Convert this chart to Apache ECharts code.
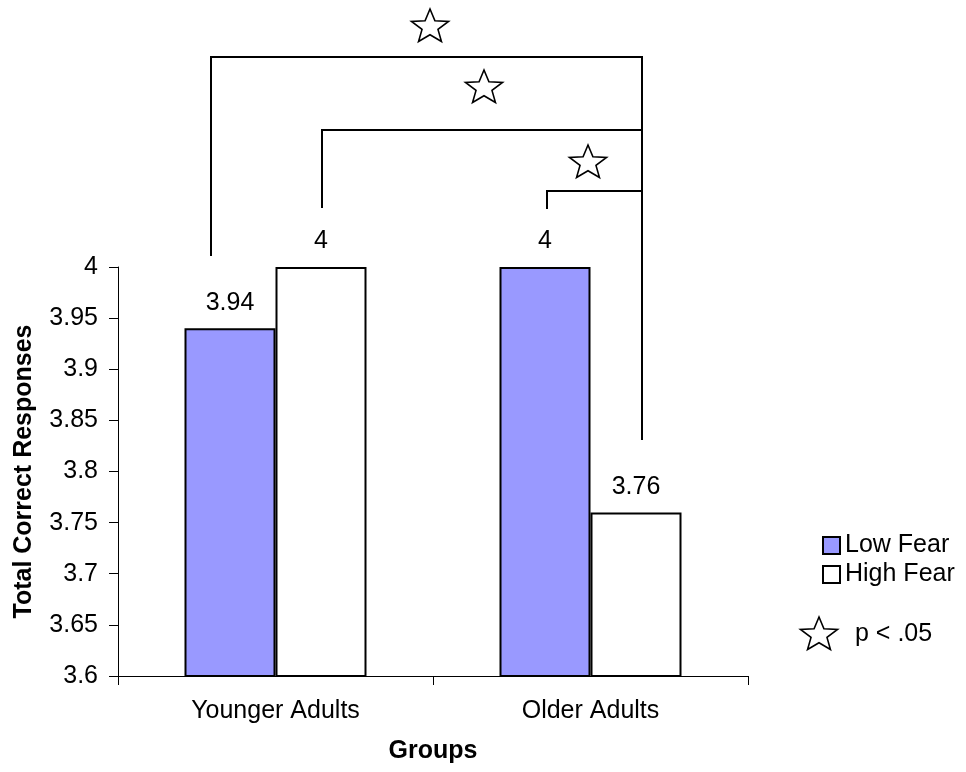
<!DOCTYPE html>
<html>
<head>
<meta charset="utf-8">
<script src="https://cdn.jsdelivr.net/npm/echarts@6/dist/echarts.min.js"></script>
<style>
html,body{margin:0;padding:0;background:#fff;}
#chart{width:966px;height:772px;}
</style>
</head>
<body>
<div id="chart"></div>
<script>
const categories = ['Younger Adults', 'Older Adults'];
const lowFear = [3.94, 4];
const highFear = [4, 3.76];
const seriesNames = ['Low Fear', 'High Fear'];
const yTicks = [3.6, 3.65, 3.7, 3.75, 3.8, 3.85, 3.9, 3.95, 4];

const FONT = '"Liberation Sans", Arial, sans-serif';
const FS = 25;

function starPoints(cx, cy, rx, ry, inner) {
  const pts = [];
  for (let i = 0; i < 10; i++) {
    const a = i * Math.PI / 5;
    const r = (i % 2 === 0) ? 1 : inner;
    pts.push([cx + rx * r * Math.sin(a), cy - ry * r * Math.cos(a)]);
  }
  return pts;
}
function star(cx, cy) {
  return {
    type: 'polygon',
    shape: { points: starPoints(cx, cy, 19.5, 18, 0.43) },
    style: { fill: '#fff', stroke: '#000', lineWidth: 1.6 },
    z: 100
  };
}
function bracket(points) {
  return {
    type: 'polyline',
    shape: { points: points },
    style: { stroke: '#000', lineWidth: 2, fill: null },
    z: 100
  };
}

const chart = echarts.init(document.getElementById('chart'));
chart.setOption({
  animation: false,
  backgroundColor: '#fff',
  textStyle: { fontFamily: FONT },
  grid: { left: 118, top: 267, width: 630, height: 409 },
  legend: {
    data: seriesNames,
    orient: 'vertical',
    left: 817,
    top: 528,
    itemWidth: 17,
    itemHeight: 17,
    itemGap: 4,
    icon: 'rect',
    textStyle: { fontSize: FS, lineHeight: 25, color: '#000', fontFamily: FONT }
  },
  xAxis: {
    type: 'category',
    data: categories,
    name: 'Groups',
    nameLocation: 'middle',
    nameGap: 63,
    nameTextStyle: { fontSize: FS, fontWeight: 'bold', color: '#000', fontFamily: FONT },
    axisLine: { lineStyle: { color: '#000', width: 1 } },
    axisTick: { show: true, length: 9, lineStyle: { color: '#000' } },
    axisLabel: { fontSize: FS, color: '#000', margin: 23, fontFamily: FONT }
  },
  yAxis: {
    type: 'value',
    min: 3.6,
    max: 4,
    interval: 0.05,
    name: 'Total Correct Responses',
    nameLocation: 'middle',
    nameGap: 81,
    nameTextStyle: { fontSize: FS, fontWeight: 'bold', color: '#000', fontFamily: FONT },
    axisLine: { show: true, lineStyle: { color: '#000', width: 1 } },
    axisTick: { show: true, length: 9, lineStyle: { color: '#000' } },
    splitLine: { show: false },
    axisLabel: {
      fontSize: FS, color: '#000', margin: 20, fontFamily: FONT,
      formatter: function (v) {
        const t = yTicks.find(x => Math.abs(x - v) < 1e-9);
        return t === undefined ? '' : String(t);
      }
    }
  },
  series: [
    {
      name: seriesNames[0],
      type: 'bar',
      data: lowFear,
      barWidth: 91,
      barGap: '0%',
      itemStyle: { color: '#9999FF', borderColor: '#000', borderWidth: 2 },
      label: { show: true, position: 'top', distance: 13, fontSize: FS, color: '#000', fontFamily: FONT }
    },
    {
      name: seriesNames[1],
      type: 'bar',
      data: highFear,
      barWidth: 91,
      barGap: '0%',
      itemStyle: { color: '#FFFFFF', borderColor: '#000', borderWidth: 2 },
      label: { show: true, position: 'top', distance: 13, fontSize: FS, color: '#000', fontFamily: FONT }
    }
  ],
  graphic: [
    bracket([[211, 256], [211, 57], [642, 57], [642, 440]]),
    bracket([[322, 208], [322, 130], [642, 130]]),
    bracket([[547, 209], [547, 191], [642, 191]]),
    star(430, 27),
    star(484, 88),
    star(588, 163),
    star(819, 635),
    {
      type: 'text',
      x: 855,
      y: 634,
      style: { text: 'p < .05', fill: '#000', font: FS + 'px ' + FONT, verticalAlign: 'middle', textVerticalAlign: 'middle' },
      z: 100
    }
  ]
});
</script>
</body>
</html>
